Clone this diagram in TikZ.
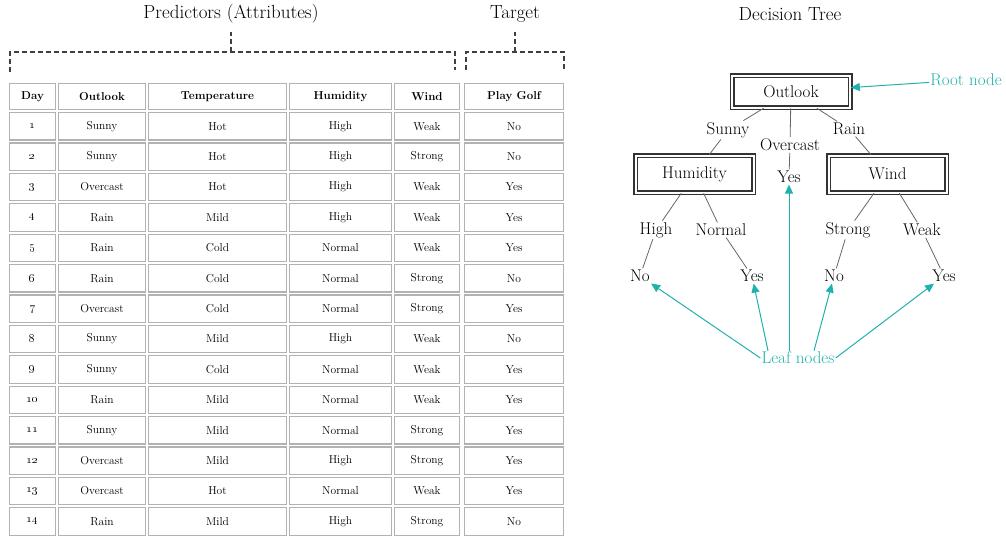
\documentclass[tikz,border=0pt]{standalone}
\usetikzlibrary{arrows.meta}
\definecolor{tealA}{HTML}{20B2AA}
\begin{document}
\begin{tikzpicture}[x=1pt,y=-1pt,
  cell/.style={draw=black!30, line width=1.2pt, inner sep=0pt, font=\fontsize{11.5}{13}\selectfont},
  head/.style={cell, font=\fontsize{11.5}{13}\selectfont\bfseries},
  title/.style={font=\fontsize{19}{22}\selectfont},
  brace/.style={draw=black!75, line width=1.5pt, dash pattern=on 5pt off 3pt},
  tbox/.style={draw=black!80, double=white, double distance=2pt, line width=1.5pt,
    minimum width=118pt, font=\fontsize{17}{20}\selectfont},
  tlab/.style={font=\fontsize{17}{20}\selectfont, inner sep=1.5pt},
  edge/.style={draw=black!60, line width=0.8pt},
  ann/.style={draw=tealA, line width=1pt, -{Triangle[length=9pt,width=8pt]}},
  antext/.style={text=tealA, font=\fontsize{17}{20}\selectfont, inner sep=1pt}]

\useasboundingbox (0,0) rectangle (1006,541);

% titles
\node[title] (pred) at (231,14) {Predictors (Attributes)};
\node[title] (targ) at (515,14) {Target};
\node[title] (dtree) at (790,14) {Decision Tree};

% brackets
\draw[brace] (10,72) -- (10,52) -- (455,52) -- (455,70);
\draw[brace] (231,52) -- (231,32);
\draw[brace] (466,70) -- (466,52) -- (564,52) -- (564,70);
\draw[brace] (515,52) -- (515,32);

% table header
\node[head, minimum width=46pt, minimum height=26pt] (h-1) at (32.5,96.5) {Day};
\node[head, minimum width=87pt, minimum height=26pt] (h-2) at (102,96.5) {Outlook};
\node[head, minimum width=138pt, minimum height=26pt] (h-3) at (217.5,96.5) {Temperature};
\node[head, minimum width=102pt, minimum height=26pt] (h-4) at (340.5,96.5) {Humidity};
\node[head, minimum width=65pt, minimum height=26pt] (h-5) at (427,96.5) {Wind};
\node[head, minimum width=99pt, minimum height=26pt] (h-6) at (514,96.5) {Play Golf};

% table rows
\foreach \a/\b/\c/\d/\e [count=\i] in {
  Sunny/Hot/High/Weak/No,
  Sunny/Hot/High/Strong/No,
  Overcast/Hot/High/Weak/Yes,
  Rain/Mild/High/Weak/Yes,
  Rain/Cold/Normal/Weak/Yes,
  Rain/Cold/Normal/Strong/No,
  Overcast/Cold/Normal/Strong/Yes,
  Sunny/Mild/High/Weak/No,
  Sunny/Cold/Normal/Weak/Yes,
  Rain/Mild/Normal/Weak/Yes,
  Sunny/Mild/Normal/Strong/Yes,
  Overcast/Mild/High/Strong/Yes,
  Overcast/Hot/Normal/Weak/Yes,
  Rain/Mild/High/Strong/No}{
  \pgfmathsetmacro\yy{111+30.4*(\i-0.5)}
  \node[cell, minimum width=46pt, minimum height=27.4pt] (c-\i-1) at (32.5,\yy) {\oldstylenums{\i}};
  \node[cell, minimum width=87pt, minimum height=27.4pt] (c-\i-2) at (102,\yy) {\a};
  \node[cell, minimum width=138pt, minimum height=27.4pt] (c-\i-3) at (217.5,\yy) {\b};
  \node[cell, minimum width=102pt, minimum height=27.4pt] (c-\i-4) at (340.5,\yy) {\c};
  \node[cell, minimum width=65pt, minimum height=27.4pt] (c-\i-5) at (427,\yy) {\d};
  \node[cell, minimum width=99pt, minimum height=27.4pt] (c-\i-6) at (514,\yy) {\e};
}

% decision tree
\node[tbox, minimum height=32pt] (out) at (791,91.5) {Outlook};
\node[tbox, minimum height=37pt] (hum) at (694.5,174) {Humidity};
\node[tbox, minimum height=37pt] (wind) at (887.5,174) {Wind};
\node[tlab] (yes0) at (789,177) {Yes};
\node[tlab] (sunny) at (728,130) {Sunny};
\node[tlab] (over) at (790,145) {Overcast};
\node[tlab] (rain) at (849,129) {Rain};
\node[tlab] (high) at (656,230) {High};
\node[tlab] (normal) at (721,230) {Normal};
\node[tlab] (strong) at (848,230) {Strong};
\node[tlab] (weak) at (922,230) {Weak};
\node[tlab] (no1) at (640,276) {No};
\node[tlab] (yes1) at (752,276) {Yes};
\node[tlab] (no2) at (834,276) {No};
\node[tlab] (yes2) at (944,276) {Yes};

\draw[edge] (out) -- (sunny) -- (hum);
\draw[edge] (out) -- (over) -- (yes0);
\draw[edge] (out) -- (rain) -- (wind);
\draw[edge] (hum) -- (high) -- (no1);
\draw[edge] (hum) -- (normal) -- (yes1);
\draw[edge] (wind) -- (strong) -- (no2);
\draw[edge] (wind) -- (weak) -- (yes2);

% annotations
\node[antext] (root) at (966,80) {Root node};
\draw[ann] (root) -- (out);
\node[antext] (leaf) at (798,358) {Leaf nodes};
\draw[ann] (leaf.west) -- (no1);
\draw[ann] ([xshift=-30pt]leaf.north) -- (yes1);
\draw[ann] ([xshift=-9pt]leaf.north) -- (yes0);
\draw[ann] ([xshift=16pt]leaf.north) -- (no2);
\draw[ann] (leaf.east) -- (yes2);
\end{tikzpicture}
\end{document}
